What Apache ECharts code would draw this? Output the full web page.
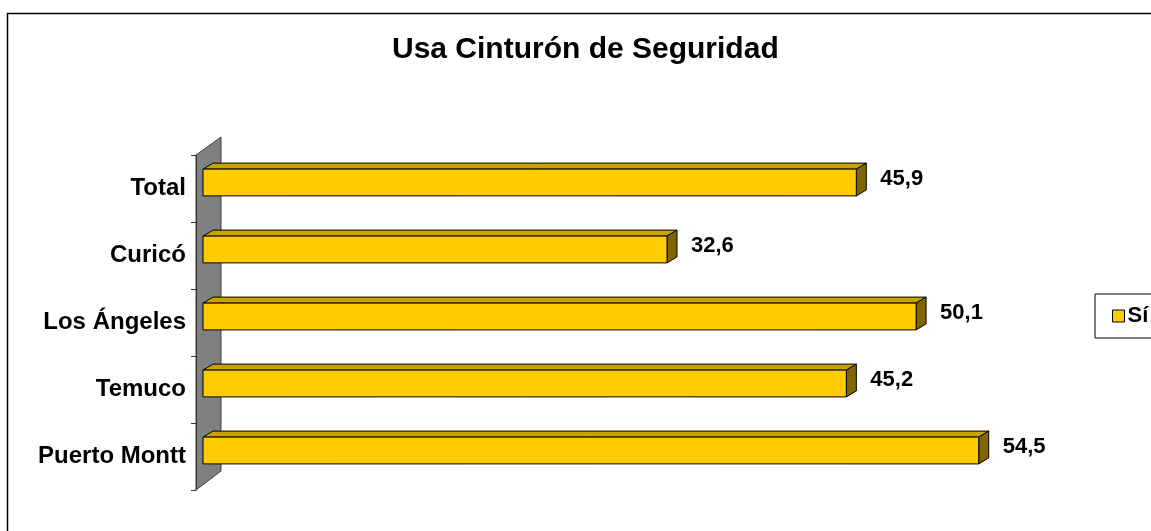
<!DOCTYPE html>
<html>
<head>
<meta charset="utf-8">
<script src="https://cdn.jsdelivr.net/npm/echarts@6/dist/echarts.min.js"></script>
<style>
  html, body { margin: 0; padding: 0; background: #fff; }
  #chart { width: 1151px; height: 531px; }
</style>
</head>
<body>
<div id="chart"></div>
<script>
// categories top to bottom
const categories = ['Total', 'Curicó', 'Los Ángeles', 'Temuco', 'Puerto Montt'];
const siValues = [45.9, 32.6, 50.1, 45.2, 54.5];
const seriesName = 'Sí';

const DX = 10; // depth of the 3d bar
const DY = 6;

function fmt(v) {
  return v.toFixed(1).replace('.', ',');
}

function renderBar(params, api) {
  const idx = api.value(0);
  const val = api.value(1);
  const start = api.coord([0, idx]);
  const end = api.coord([val, idx]);
  const band = api.size([0, 1])[1];
  const h = band * 0.4;
  const cy = start[1] - 6;
  const x0 = start[0];
  const x1 = end[0];
  const y0 = cy - h / 2;
  const y1 = cy + h / 2;
  const stroke = { stroke: '#000', lineWidth: 1 };
  return {
    type: 'group',
    children: [
      {
        type: 'polygon',
        shape: { points: [[x0, y0], [x0 + DX, y0 - DY], [x1 + DX, y0 - DY], [x1, y0]] },
        style: Object.assign({ fill: '#C9A100' }, stroke),
      },
      {
        type: 'polygon',
        shape: { points: [[x1, y0], [x1 + DX, y0 - DY], [x1 + DX, y1 - DY], [x1, y1]] },
        style: Object.assign({ fill: '#806600' }, stroke),
      },
      {
        type: 'rect',
        shape: { x: x0, y: y0, width: x1 - x0, height: h },
        style: Object.assign({ fill: '#FFCC00' }, stroke),
      },
      {
        type: 'text',
        x: x1 + DX + 14,
        y: cy - 4,
        style: {
          text: fmt(val),
          fill: '#000',
          font: 'bold 22px "Liberation Sans", Arial, sans-serif',
          align: 'left',
          verticalAlign: 'middle',
        },
      },
    ],
  };
}

const chart = echarts.init(document.getElementById('chart'));

const option = {
  backgroundColor: '#fff',
  animation: false,
  textStyle: { fontFamily: '"Liberation Sans", Arial, sans-serif' },
  title: {
    text: 'Usa Cinturón de Seguridad',
    left: 392,
    top: 35,
    padding: 0,
    textStyle: { fontSize: 30, fontWeight: 'bold', color: '#000' },
  },
  legend: {
    left: 1095,
    top: 294,
    padding: [11, 40, 11, 17],
    borderColor: '#000',
    borderWidth: 1,
    itemWidth: 12,
    itemHeight: 12,
    itemGap: 4,
    icon: 'rect',
    itemStyle: { color: '#FFCC00', borderColor: '#000', borderWidth: 1 },
    textStyle: { fontSize: 22, fontWeight: 'bold', color: '#000', padding: [0, 0, 0, -2] },
    data: [seriesName],
  },
  grid: {
    left: 203,
    top: 155,
    width: 854,
    height: 335,
  },
  xAxis: {
    type: 'value',
    min: 0,
    max: 60,
    show: false,
  },
  yAxis: {
    type: 'category',
    inverse: true,
    data: categories,
    offset: 7,
    axisLine: { show: true, onZero: false, lineStyle: { color: '#333', width: 1 } },
    axisTick: { show: true, inside: false, length: 5, lineStyle: { color: '#333' } },
    axisLabel: {
      margin: 10,
      fontSize: 24,
      fontWeight: 'bold',
      color: '#000',
    },
    splitLine: { show: false },
    z: 10,
  },
  graphic: {
    elements: [
      {
        type: 'rect',
        shape: { x: 7.5, y: 13.5, width: 1300, height: 700 },
        style: { fill: 'none', stroke: '#000', lineWidth: 1.5 },
        silent: true,
      },
      {
        // back wall of the 3d plot
        type: 'polygon',
        shape: { points: [[196, 155], [221, 137], [221, 471], [196, 490]] },
        style: { fill: '#808080', stroke: '#404040', lineWidth: 1 },
        silent: true,
      },
    ],
  },
  series: [
    {
      name: seriesName,
      type: 'custom',
      color: '#FFCC00',
      renderItem: renderBar,
      encode: { x: 1, y: 0 },
      data: siValues.map((v, i) => [i, v]),
      z: 5,
    },
  ],
};

chart.setOption(option);
window.addEventListener('resize', () => { chart.resize(); });
</script>
</body>
</html>
